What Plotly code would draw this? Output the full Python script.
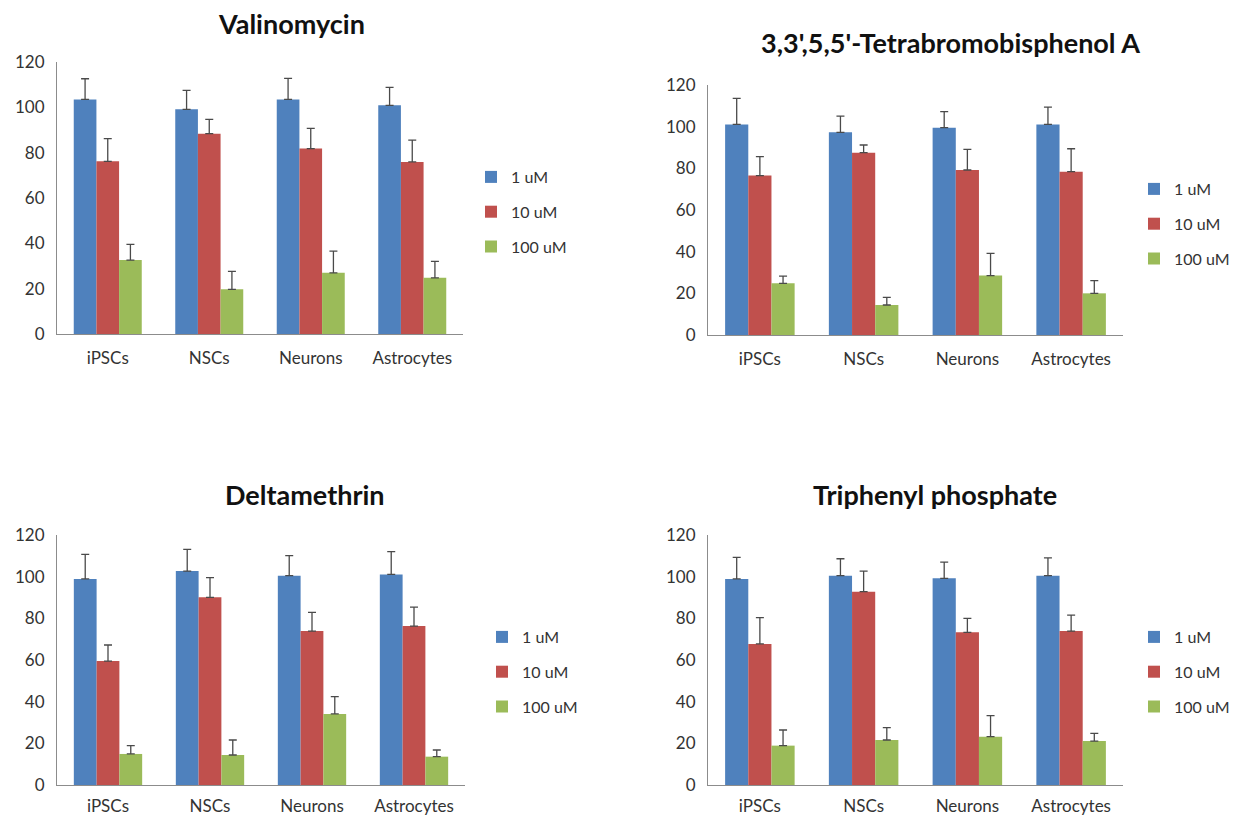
import plotly.graph_objects as go

categories = ["iPSCs", "NSCs", "Neurons", "Astrocytes"]
series_names = ["1 uM", "10 uM", "100 uM"]
colors = ["#4F81BD", "#C0504D", "#9BBB59"]

titles = ["Valinomycin", "3,3',5,5'-Tetrabromobisphenol A", "Deltamethrin", "Triphenyl phosphate"]

# Valinomycin
val_1 = [103.5, 99.1, 103.5, 100.9]
val_10 = [76.2, 88.4, 81.8, 75.9]
val_100 = [32.6, 19.7, 27.0, 24.8]
val_err_1 = [9.1, 8.4, 9.3, 7.9]
val_err_10 = [10.0, 6.3, 8.9, 9.6]
val_err_100 = [6.9, 7.9, 9.6, 7.2]

# 3,3',5,5'-Tetrabromobisphenol A
tbb_1 = [101.1, 97.3, 99.5, 101.1]
tbb_10 = [76.5, 87.5, 79.2, 78.4]
tbb_100 = [24.8, 14.4, 28.5, 20.0]
tbb_err_1 = [12.5, 7.8, 7.7, 8.3]
tbb_err_10 = [9.1, 3.7, 9.9, 11.0]
tbb_err_100 = [3.5, 3.7, 10.7, 6.1]

# Deltamethrin
del_1 = [98.9, 102.7, 100.5, 101.1]
del_10 = [59.5, 90.1, 73.9, 76.3]
del_100 = [14.9, 14.4, 34.1, 13.6]
del_err_1 = [11.8, 10.4, 9.6, 10.9]
del_err_10 = [7.7, 9.4, 9.0, 9.1]
del_err_100 = [4.0, 7.2, 8.3, 3.2]

# Triphenyl phosphate
tpp_1 = [98.9, 100.5, 99.2, 100.5]
tpp_10 = [67.7, 92.8, 73.3, 73.9]
tpp_100 = [18.9, 21.6, 23.2, 21.1]
tpp_err_1 = [10.4, 8.1, 7.8, 8.5]
tpp_err_10 = [12.6, 9.9, 6.7, 7.6]
tpp_err_100 = [7.5, 5.9, 10.1, 3.7]

y_ticks = [0, 20, 40, 60, 80, 100, 120]

panels = [
    ([val_1, val_10, val_100], [val_err_1, val_err_10, val_err_100]),
    ([tbb_1, tbb_10, tbb_100], [tbb_err_1, tbb_err_10, tbb_err_100]),
    ([del_1, del_10, del_100], [del_err_1, del_err_10, del_err_100]),
    ([tpp_1, tpp_10, tpp_100], [tpp_err_1, tpp_err_10, tpp_err_100]),
]

W, H = 1240, 821
def px_x(a, b):
    return [a / W, b / W]
def px_y(top, bottom):
    return [1 - bottom / H, 1 - top / H]

x_domains = [px_x(57, 463), px_x(708, 1123), px_x(57, 465), px_x(708, 1123)]
y_domains = [px_y(62, 334), px_y(85, 335), px_y(535, 785), px_y(535, 785)]
x_standoff = [9, 9, 6, 6]

legend_pos = [(471 / W, 1 - 212 / H), (1134 / W, 1 - 224 / H),
              (482 / W, 1 - 672 / H), (1134 / W, 1 - 672 / H)]
title_pos = [(291, 23), (950, 43), (305, 494), (935, 494)]

FONT = "Lato"
fig = go.Figure()

layout = dict(
    width=W, height=H,
    margin=dict(l=0, r=0, t=0, b=0, autoexpand=False),
    paper_bgcolor="white", plot_bgcolor="white",
    barmode="group", bargap=0.33,
    font=dict(family=FONT, color="#333333", size=17),
    annotations=[],
)

for p, (vals, errs) in enumerate(panels):
    idx = p + 1
    xa = "x" if idx == 1 else f"x{idx}"
    ya = "y" if idx == 1 else f"y{idx}"
    lg = "legend" if idx == 1 else f"legend{idx}"
    for s in range(3):
        fig.add_trace(go.Bar(
            x=categories, y=vals[s], name=series_names[s],
            marker=dict(color=colors[s], line=dict(width=0)),
            error_y=dict(type="data", symmetric=False, array=errs[s],
                         arrayminus=[0] * len(errs[s]),
                         color="#4a4a4a", thickness=1.3, width=4),
            xaxis=xa, yaxis=ya, legend=lg, legendgroup=f"{idx}-{s}",
            showlegend=True,
        ))
    xkey = "xaxis" if idx == 1 else f"xaxis{idx}"
    ykey = "yaxis" if idx == 1 else f"yaxis{idx}"
    layout[xkey] = dict(domain=x_domains[p], anchor=ya, showline=True,
                        linecolor="#8c8c8c", linewidth=1, ticks="",
                        showgrid=False, automargin=False,
                        ticklabelstandoff=x_standoff[p],
                        tickfont=dict(size=17, color="#333333"))
    layout[ykey] = dict(domain=y_domains[p], anchor=xa, range=[0, 120],
                        tickvals=y_ticks, showline=True, linecolor="#8c8c8c",
                        linewidth=1, ticks="", showgrid=False, zeroline=False,
                        automargin=False, ticklabelstandoff=8,
                        tickfont=dict(size=17, color="#333333"))
    layout[lg] = dict(x=legend_pos[p][0], y=legend_pos[p][1], xanchor="left",
                      yanchor="middle", tracegroupgap=11,
                      font=dict(size=16, color="#333333"),
                      bgcolor="rgba(0,0,0,0)", itemclick=False)
    layout["annotations"].append(dict(
        text=f"<b>{titles[p]}</b>", x=title_pos[p][0] / W,
        y=1 - title_pos[p][1] / H, xref="paper", yref="paper",
        xanchor="center", yanchor="middle", showarrow=False,
        font=dict(size=27, color="#111111", family=FONT)))

fig.update_layout(**layout)
fig.write_html("out.html", config={"displayModeBar": False},
               post_script="document.body.style.margin='0';document.body.style.overflow='hidden';")
